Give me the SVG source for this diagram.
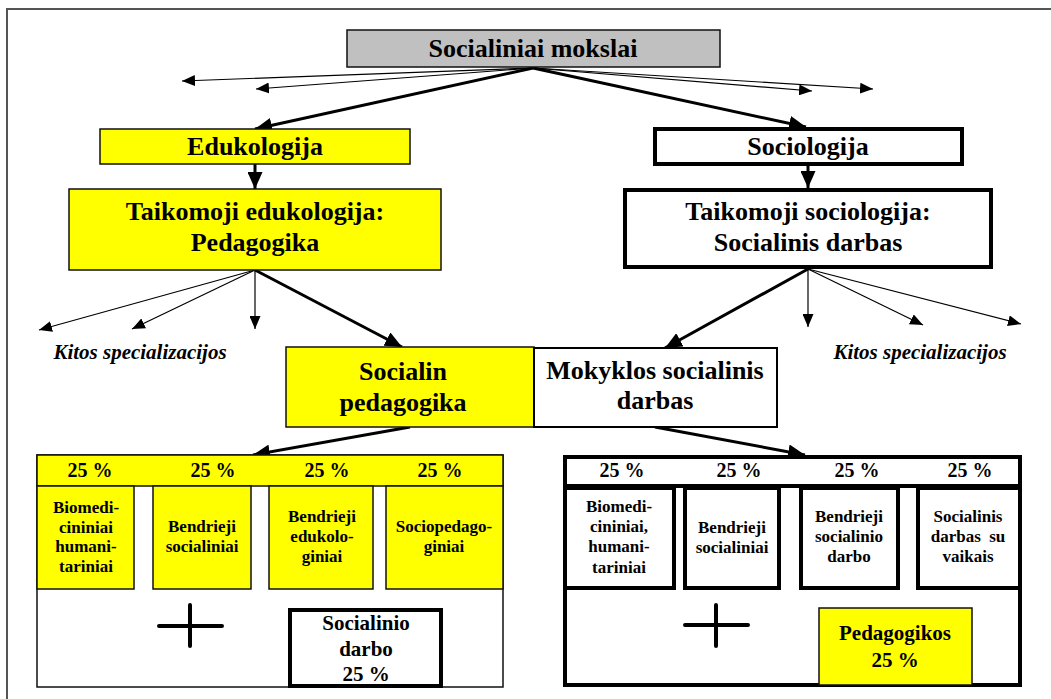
<svg xmlns="http://www.w3.org/2000/svg" width="1051" height="699" viewBox="0 0 1051 699">
<defs>
<marker id="ah" markerUnits="userSpaceOnUse" markerWidth="13" markerHeight="11" refX="13" refY="5.5" orient="auto"><path d="M0,0 L13,5.5 L0,11 z" fill="#000"/></marker>
<marker id="ahb" markerUnits="userSpaceOnUse" markerWidth="17" markerHeight="15" refX="17" refY="7.5" orient="auto"><path d="M0,0 L17,7.5 L0,15 z" fill="#000"/></marker>
</defs>
<style>
text{font-family:"Liberation Serif","Times New Roman",serif;font-weight:bold;fill:#000;text-anchor:middle}
.t26{font-size:26px}
.t21{font-size:21px}
.t20{font-size:20px}
.t17{font-size:17px}
.it{font-size:21px;font-style:italic}
.thin{stroke:#000;stroke-width:1.2;fill:none}
.thick{stroke:#000;stroke-width:3;fill:none}
.yl{fill:#ffff00;stroke:#111;stroke-width:1.5}
.wb{fill:#fff;stroke:#000;stroke-width:4}
.wn{fill:#fff;stroke:#111;stroke-width:1.5}
.plus{stroke:#000;stroke-width:4;stroke-linecap:round;fill:none}
</style>
<rect x="0" y="0" width="1051" height="699" fill="#fff"/>
<rect x="7" y="9" width="1060" height="700" fill="none" stroke="#555" stroke-width="2"/>

<g id="connectors">
<line class="thin" x1="533" y1="68" x2="182" y2="81" marker-end="url(#ah)"/>
<line class="thin" x1="533" y1="68" x2="256" y2="89" marker-end="url(#ah)"/>
<line class="thin" x1="533" y1="68" x2="812" y2="91" marker-end="url(#ah)"/>
<line class="thin" x1="533" y1="68" x2="873" y2="89" marker-end="url(#ah)"/>
<line class="thick" x1="533" y1="68" x2="255" y2="129" marker-end="url(#ahb)"/>
<line class="thick" x1="533" y1="68" x2="806" y2="127" marker-end="url(#ahb)"/>
<line class="thick" x1="255" y1="164" x2="255" y2="189" marker-end="url(#ahb)"/>
<line class="thick" x1="808" y1="166" x2="808" y2="188" marker-end="url(#ahb)"/>
<line class="thin" x1="255" y1="270" x2="39" y2="330" marker-end="url(#ah)"/>
<line class="thin" x1="255" y1="270" x2="132" y2="329" marker-end="url(#ah)"/>
<line class="thin" x1="255" y1="270" x2="255" y2="329" marker-end="url(#ah)"/>
<line class="thick" x1="255" y1="270" x2="402" y2="347" marker-end="url(#ahb)"/>
<line class="thin" x1="808" y1="269" x2="808" y2="327" marker-end="url(#ah)"/>
<line class="thin" x1="808" y1="269" x2="923" y2="325" marker-end="url(#ah)"/>
<line class="thin" x1="808" y1="269" x2="1021" y2="324" marker-end="url(#ah)"/>
<line class="thick" x1="808" y1="269" x2="665" y2="348" marker-end="url(#ahb)"/>
<line class="thick" x1="410" y1="427" x2="253" y2="455" marker-end="url(#ahb)"/>
<line class="thick" x1="655" y1="427" x2="805" y2="455" marker-end="url(#ahb)"/>
</g>

<g id="n-socialiniai-mokslai">
<rect x="347" y="30" width="373" height="37" fill="#c0c0c0" stroke="#111" stroke-width="1.5"/>
<text class="t26" x="533" y="57">Socialiniai mokslai</text>
</g>
<g id="n-edukologija">
<rect class="yl" x="100" y="129" width="310" height="35"/>
<text class="t26" x="255" y="155">Edukologija</text>
</g>
<g id="n-sociologija">
<rect class="wb" x="655" y="129" width="307" height="35"/>
<text class="t26" x="808" y="155">Sociologija</text>
</g>
<g id="n-taikomoji-edukologija">
<rect class="yl" x="69" y="189" width="372" height="81"/>
<text class="t26" x="255" y="220">Taikomoji edukologija:</text>
<text class="t26" x="255" y="251">Pedagogika</text>
</g>
<g id="n-taikomoji-sociologija">
<rect class="wb" x="625" y="190" width="366" height="77"/>
<text class="t26" x="808" y="220">Taikomoji sociologija:</text>
<text class="t26" x="808" y="251">Socialinis darbas</text>
</g>
<g id="n-kitos-left">
<text class="it" x="140" y="359">Kitos specializacijos</text>
</g>
<g id="n-kitos-right">
<text class="it" x="920" y="359">Kitos specializacijos</text>
</g>
<g id="n-socialin-pedagogika">
<rect class="yl" x="286" y="347" width="248" height="80"/>
<text class="t26" x="403" y="380">Socialin</text>
<text class="t26" x="403" y="411">pedagogika</text>
</g>
<g id="n-mokyklos">
<rect x="534" y="348" width="243" height="79" fill="#fff" stroke="#000" stroke-width="2"/>
<text class="t26" x="655" y="379">Mokyklos socialinis</text>
<text class="t26" x="655" y="409">darbas</text>
</g>

<g id="n-left-program">
<rect class="wn" x="37" y="455" width="466" height="232"/>
<rect class="yl" x="37" y="455" width="466" height="31"/>
<text class="t20" x="90" y="477">25 %</text>
<text class="t20" x="213" y="477">25 %</text>
<text class="t20" x="327" y="477">25 %</text>
<text class="t20" x="440" y="477">25 %</text>
<rect class="yl" x="37" y="486" width="97" height="103"/>
<rect class="yl" x="153" y="486" width="98" height="103"/>
<rect class="yl" x="269" y="486" width="104" height="103"/>
<rect class="yl" x="386" y="486" width="117" height="103"/>
<text class="t17" x="86" y="513">Biomedi-</text>
<text class="t17" x="86" y="533">cininiai</text>
<text class="t17" x="86" y="552">humani-</text>
<text class="t17" x="86" y="572">tariniai</text>
<text class="t17" x="202" y="532">Bendrieji</text>
<text class="t17" x="202" y="552">socialiniai</text>
<text class="t17" x="322" y="522">Bendrieji</text>
<text class="t17" x="322" y="542">edukolo-</text>
<text class="t17" x="322" y="562">giniai</text>
<text class="t17" x="444" y="532">Sociopedago-</text>
<text class="t17" x="444" y="552">giniai</text>
<path class="plus" d="M159,626 H222 M190,605 V646"/>
</g>
<g id="n-socialinio-darbo">
<rect class="wb" x="290" y="610" width="151" height="76"/>
<text class="t21" x="366" y="630">Socialinio</text>
<text class="t21" x="366" y="656">darbo</text>
<text class="t21" x="366" y="681">25 %</text>
</g>

<g id="n-right-program">
<rect class="wb" x="565" y="457" width="455" height="228"/>
<line x1="565" y1="486" x2="1020" y2="486" stroke="#000" stroke-width="4"/>
<text class="t20" x="622" y="477">25 %</text>
<text class="t20" x="739" y="477">25 %</text>
<text class="t20" x="857" y="477">25 %</text>
<text class="t20" x="970" y="477">25 %</text>
<rect class="wb" x="565" y="488" width="109" height="100"/>
<rect class="wb" x="685" y="488" width="94" height="100"/>
<rect class="wb" x="801" y="488" width="97" height="100"/>
<rect class="wb" x="918" y="488" width="102" height="100"/>
<text class="t17" x="619" y="512">Biomedi-</text>
<text class="t17" x="619" y="532">cininiai,</text>
<text class="t17" x="619" y="552">humani-</text>
<text class="t17" x="619" y="573">tariniai</text>
<text class="t17" x="732" y="533">Bendrieji</text>
<text class="t17" x="732" y="553">socialiniai</text>
<text class="t17" x="849" y="522">Bendrieji</text>
<text class="t17" x="849" y="542">socialinio</text>
<text class="t17" x="849" y="562">darbo</text>
<text class="t17" x="968" y="522">Socialinis</text>
<text class="t17" x="968" y="542" xml:space="preserve">darbas  su</text>
<text class="t17" x="968" y="562">vaikais</text>
<path class="plus" d="M685,625 H748 M716,605 V646"/>
</g>
<g id="n-pedagogikos">
<rect class="yl" x="819" y="608" width="153" height="77"/>
<text class="t21" x="895" y="640">Pedagogikos</text>
<text class="t21" x="895" y="667">25 %</text>
</g>
</svg>
